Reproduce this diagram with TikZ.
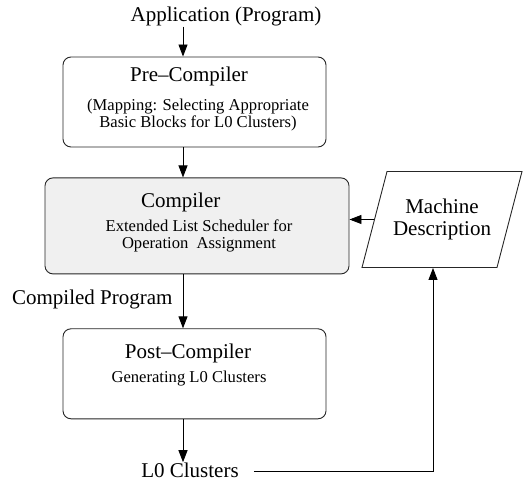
\documentclass[tikz,border=0pt]{standalone}
\usepackage{fontspec}
\setmainfont{Liberation Serif}
\usepackage{tikz}
\usetikzlibrary{shapes.geometric, arrows.meta, positioning}
\tikzset{
  % boxes of the tool chain
  stage/.style={rectangle, rounded corners=8pt, minimum width=263pt, minimum height=90pt, draw=black!85, line width=0.9pt, fill=#1},
  stage/.default={white},
  % input/output description (tall inner ysep so the slant follows the full height)
  datafile/.style={trapezium, trapezium left angle=75.4, trapezium right angle=104.6, trapezium stretches body=true, inner ysep=27.5pt, minimum width=160pt, minimum height=96pt, draw=black!85, line width=0.9pt, align=center, font=\fontsize{21}{22}\selectfont},
  heading/.style={inner sep=0pt, font=\fontsize{21}{24}\selectfont},
  remark/.style={inner sep=0pt, align=center, font=\fontsize{16.6}{17}\selectfont},
  arrow/.style={-{Triangle[length=12pt, width=9pt]}, line width=0.9pt},
}

\begin{document}
\begin{tikzpicture}[x=1pt, y=1pt]
    \useasboundingbox (0,0) rectangle (526,481);
    \coordinate (axis) at (183,0);

    % Input
    \node[heading, anchor=base] (app) at (226,459) {Application (Program)};

    % Pre-compiler (notes are placed by their last line)
    \node[stage] (pre) at (194.5,379) {};
    \node[heading, anchor=base] (pretitle) at ([xshift=-5.5pt, yshift=-25pt]pre.north) {Pre--Compiler};
    \node[remark, anchor=base] (prenote) at ([xshift=3.5pt, yshift=-71pt]pre.north) {(Mapping: Selecting Appropriate\\Basic Blocks for L0 Clusters)};

    % Compiler
    \node[stage=black!6, below=30pt of pre, xshift=2.5pt, minimum width=304pt, minimum height=96pt] (comp) {};
    \node[heading, anchor=base] (comptitle) at ([xshift=-16.3pt, yshift=-30pt]comp.north) {Compiler};
    \node[remark, anchor=base] (compnote) at ([xshift=2pt, yshift=-71pt]comp.north) {Extended List Scheduler for\\Operation\ \ Assignment};

    % Machine description
    \node[datafile] (mach) at (442,261.5) {Machine\\Description};

    % Post-compiler
    \node[stage, below=54pt of comp, xshift=-2.5pt] (post) {};
    \node[heading, anchor=base] (posttitle) at ([xshift=-6.5pt, yshift=-30pt]post.north) {Post--Compiler};
    \node[remark, anchor=base] (postnote) at ([xshift=-5.5pt, yshift=-54pt]post.north) {Generating L0 Clusters};

    % Output
    \node[heading, anchor=base] (out) at (190,4) {L0 Clusters};

    % Arrows
    \draw[arrow] (app.south -| axis) -- (pre.north -| axis);
    \draw[arrow] (pre.south -| axis) -- (comp.north -| axis);
    \draw[arrow] (comp.south -| axis) -- node[heading, anchor=base east, pos=0.56, xshift=-10pt] {Compiled Program} (post.north -| axis);
    \draw[arrow] (post.south -| axis) -- (out.north -| axis);
    \draw[arrow] (mach.west) -- (mach.west -| comp.east);
    \draw[arrow] ([xshift=15pt, yshift=-2pt]out.east) -| ([xshift=-9pt]mach.south);
  \end{tikzpicture}
\end{document}
